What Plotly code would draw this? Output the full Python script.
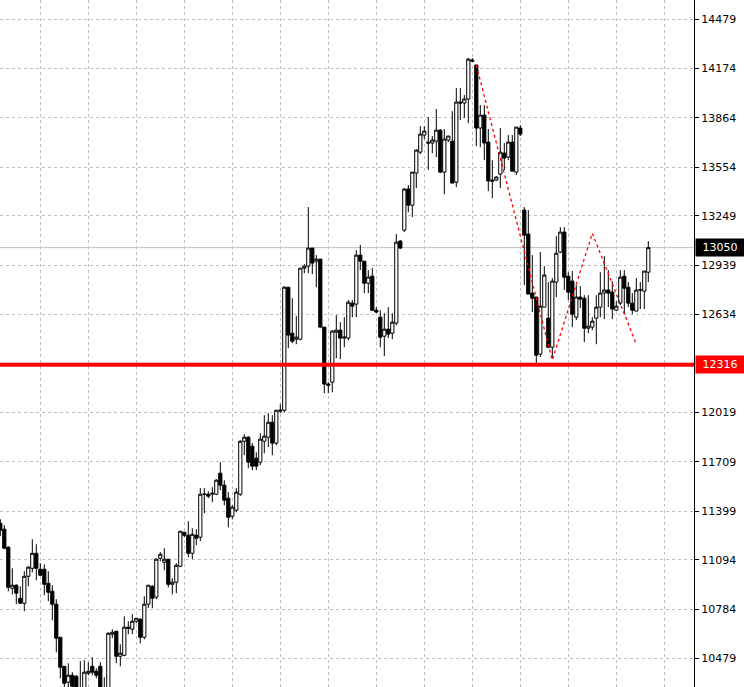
import plotly.graph_objects as go

# ---- data ----
opens = [11323, 11286, 11173, 10916, 10935, 10853, 10822, 10991, 11041, 11135,
         11035, 11035, 10947, 10897, 10816, 10609, 10427, 10327, 10371, 10365,
         10277, 10289, 10383, 10427, 10396, 10427, 10277, 10264, 10628, 10647,
         10490, 10496, 10672, 10659, 10709, 10722, 10609, 10816, 10928, 10860,
         11104, 11079, 11098, 10941, 10954, 11054, 11267, 11248, 11135, 11248,
         11236, 11505, 11505, 11505, 11505, 11637, 11562, 11480, 11367, 11405,
         11505, 11837, 11862, 11806, 11731, 11706, 11837, 11862, 11956, 11825,
         12025, 12031, 12802, 12514, 12476, 12476, 12921, 12934, 13047, 12965,
         12978, 12552, 12195, 12207, 12520, 12533, 12483, 12483, 12702, 12696,
         13003, 12965, 12827, 12871, 12658, 12614, 12495, 12539, 12514, 12577,
         13091, 13160, 13417, 13316, 13517, 13648, 13755, 13711, 13705, 13717,
         13786, 13523, 13724, 13717, 13460, 13962, 13956, 13981, 14225, 14194,
         13799, 13880, 13711, 13473, 13473, 13511, 13642, 13617, 13711, 13523,
         13799, 13285, 13135, 12765, 12740, 12382, 12677, 12608, 12426, 12834,
         13022, 13147, 12871, 12840, 12614, 12740, 12733, 12545, 12552, 12608,
         12677, 12765, 12784, 12771, 12658, 12702, 12871, 12802, 12702, 12652,
         12784, 12777, 12896]
highs = [11348, 11311, 11179, 11041, 10941, 10928, 11022, 11054, 11223, 11192,
         11073, 11066, 11022, 10935, 10847, 10609, 10427, 10446, 10390, 10371,
         10459, 10465, 10452, 10484, 10415, 10452, 10358, 10640, 10659, 10647,
         10565, 10740, 10709, 10753, 10728, 10728, 10866, 10935, 10935, 11104,
         11142, 11167, 11098, 10979, 11073, 11273, 11267, 11336, 11292, 11286,
         11543, 11543, 11524, 11549, 11599, 11706, 11593, 11518, 11436, 11543,
         11843, 11881, 11869, 11825, 11768, 11887, 12000, 12013, 12000, 12031,
         12069, 12809, 12802, 12733, 12621, 12921, 12946, 13304, 13047, 13003,
         12978, 12552, 12207, 12533, 12627, 12583, 12614, 12721, 12721, 13034,
         13066, 12965, 12909, 12921, 12677, 12658, 12639, 12677, 12639, 13135,
         13097, 13423, 13442, 13523, 13667, 13811, 13811, 13868, 13749, 13918,
         13793, 13793, 13749, 13905, 14050, 14050, 14006, 14238, 14238, 14194,
         13943, 13943, 13793, 13598, 13498, 13799, 13705, 13755, 13755, 13805,
         13818, 13304, 13285, 13003, 12740, 13022, 12934, 12834, 12859, 13122,
         13178, 13178, 12896, 12903, 12815, 12809, 12752, 12752, 12614, 12752,
         12896, 12997, 12909, 12840, 12715, 12909, 12909, 12834, 12765, 12859,
         12834, 12903, 13091]
lows = [11242, 11160, 10897, 10878, 10816, 10822, 10772, 10928, 11016, 10966,
        10997, 10872, 10835, 10715, 10515, 10352, 10264, 10296, 10264, 10264,
        10227, 10264, 10371, 10371, 10352, 10252, 10214, 10239, 10603, 10446,
        10427, 10490, 10628, 10628, 10697, 10571, 10596, 10791, 10791, 10847,
        11085, 11029, 10922, 10878, 10885, 11048, 11236, 11110, 11098, 11186,
        11211, 11386, 11480, 11455, 11499, 11530, 11436, 11298, 11348, 11392,
        11493, 11750, 11668, 11656, 11656, 11687, 11762, 11800, 11750, 11812,
        12013, 12019, 12420, 12451, 12445, 12470, 12890, 12890, 12884, 12802,
        12545, 12138, 12138, 12144, 12357, 12351, 12426, 12470, 12614, 12614,
        12909, 12765, 12765, 12652, 12639, 12426, 12370, 12483, 12476, 12564,
        13041, 13147, 13272, 13241, 13423, 13636, 13730, 13536, 13642, 13617,
        13517, 13385, 13711, 13454, 13429, 13849, 13862, 13830, 14212, 13686,
        13680, 13598, 13404, 13360, 13467, 13423, 13536, 13598, 13529, 13504,
        13749, 12815, 12759, 12646, 12326, 12364, 12677, 12420, 12357, 12740,
        13015, 12784, 12721, 12552, 12596, 12671, 12458, 12514, 12533, 12445,
        12614, 12602, 12677, 12602, 12652, 12690, 12633, 12677, 12633, 12652,
        12665, 12665, 12834]
closes = [11280, 11167, 10922, 10935, 10885, 10822, 10991, 11048, 11135, 11041,
          10997, 10941, 10891, 10816, 10603, 10421, 10321, 10371, 10302, 10289,
          10252, 10390, 10396, 10390, 10371, 10277, 10252, 10634, 10640, 10490,
          10509, 10672, 10665, 10709, 10728, 10609, 10816, 10935, 10853, 11098,
          11129, 11098, 10941, 10954, 11060, 11273, 11248, 11135, 11254, 11229,
          11505, 11506, 11493, 11511, 11593, 11562, 11468, 11361, 11424, 11518,
          11837, 11862, 11706, 11681, 11681, 11850, 11869, 11956, 11825, 12031,
          12031, 12802, 12502, 12464, 12489, 12921, 12934, 13047, 12953, 12978,
          12552, 12195, 12188, 12527, 12533, 12483, 12489, 12708, 12683, 13003,
          12965, 12827, 12865, 12658, 12646, 12489, 12539, 12508, 12583, 13084,
          13047, 13417, 13316, 13523, 13661, 13761, 13780, 13705, 13724, 13786,
          13523, 13730, 13749, 13454, 13962, 13956, 13981, 14231, 14219, 13799,
          13880, 13705, 13467, 13467, 13492, 13648, 13611, 13711, 13529, 13805,
          13761, 13128, 12759, 12733, 12376, 12683, 12878, 12426, 12840, 13015,
          13147, 12865, 12771, 12633, 12740, 12727, 12545, 12558, 12589, 12677,
          12765, 12784, 12765, 12665, 12683, 12865, 12796, 12702, 12658, 12784,
          12786, 12903, 13050]

zigzag_bars = [119, 138, 148, 159]
zigzag_prices = [14194, 12345, 13140, 12445]

price_ticks = [14479, 14174, 13864, 13554, 13249, 12939, 12634,
               12019, 11709, 11399, 11094, 10784, 10479]
grid_bars = list(range(10, 170, 12))

bid_price = 13050
support_level = 12316

bars = list(range(len(opens)))

fig = go.Figure()
fig.add_trace(go.Candlestick(
    x=bars, open=opens, high=highs, low=lows, close=closes,
    increasing=dict(line=dict(color="black", width=1), fillcolor="white"),
    decreasing=dict(line=dict(color="black", width=1), fillcolor="black"),
    whiskerwidth=0, hoverinfo="skip", showlegend=False,
))
fig.add_trace(go.Scatter(
    x=zigzag_bars, y=zigzag_prices, mode="lines",
    line=dict(color="#ff0000", width=1.3, dash="dot"),
    hoverinfo="skip", showlegend=False,
))

fig.add_shape(type="line", xref="paper", x0=0, x1=1, yref="y",
              y0=bid_price, y1=bid_price,
              line=dict(color="#c0c0c0", width=1), layer="below")
fig.add_shape(type="line", xref="paper", x0=0, x1=1, yref="y",
              y0=support_level, y1=support_level,
              line=dict(color="#ff0000", width=4), layer="above")

for val, bg in [(bid_price, "black"), (support_level, "#ff0000")]:
    fig.add_annotation(xref="paper", x=1, xanchor="left", xshift=1,
                       yref="y", y=val, yanchor="middle",
                       text=str(val), showarrow=False, width=44,
                       font=dict(family="DejaVu Sans", size=11, color="white"),
                       bgcolor=bg, borderpad=2, align="center")

fig.update_layout(
    width=744, height=687,
    margin=dict(l=0, r=50, t=0, b=0),
    paper_bgcolor="white", plot_bgcolor="white",
    boxgap=0.2, boxgroupgap=0,
    showlegend=False,
    xaxis=dict(range=[-0.075, 173.425], tickvals=grid_bars,
               showticklabels=False, ticks="", showgrid=True,
               gridcolor="#c0c0c0", griddash="3px,3px", gridwidth=1,
               zeroline=False, rangeslider=dict(visible=False),
               showline=False),
    yaxis=dict(side="right", range=[10297.3, 14601.2],
               tickvals=price_ticks, ticktext=[str(v) for v in price_ticks],
               showgrid=True, gridcolor="#c0c0c0", griddash="3px,3px",
               gridwidth=1, zeroline=False, showline=True,
               linecolor="black", linewidth=1, ticks="outside",
               ticklen=4, tickcolor="black",
               tickfont=dict(family="DejaVu Sans", size=11, color="black")),
)

fig.write_html("out.html",
               config={"displayModeBar": False},
               post_script="document.body.style.margin='0';"
                           "document.body.style.overflow='hidden';")
